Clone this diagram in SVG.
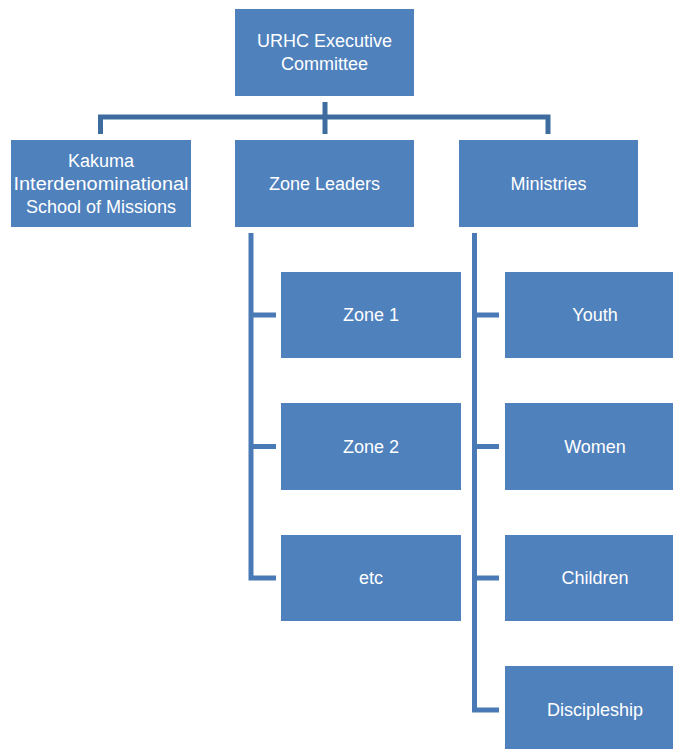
<svg xmlns="http://www.w3.org/2000/svg" width="673" height="749" viewBox="0 0 673 749">
<style>
.box{fill:#4F81BD}
.t{fill:#FFFFFF;font-family:"Liberation Sans",Arial,sans-serif;font-size:18px;text-anchor:middle}
.c1{fill:none;stroke:#3F6C9E;stroke-width:5}
.c2{fill:none;stroke:#4A7AB5;stroke-width:5}
</style>
<rect width="673" height="749" fill="#FFFFFF"/>
<g id="connectors">
<path class="c1" d="M100.5,134 V117 H548 V134"/>
<path class="c1" d="M325,102 V134"/>
<path class="c2" d="M251,233 V578 H276 M251,315 H276 M251,446.5 H276"/>
<path class="c2" d="M474.5,233 V710 H499 M474.5,315 H499 M474.5,446.5 H499 M474.5,578 H499"/>
</g>
<g id="urhc">
<rect class="box" x="235" y="9" width="179" height="87"/>
<text class="t" x="324.5" y="47">URHC Executive</text>
<text class="t" x="324.5" y="70">Committee</text>
</g>
<g id="kakuma">
<rect class="box" x="11" y="140" width="180" height="87"/>
<text class="t" x="101" y="167">Kakuma</text>
<text class="t" x="101" y="190" textLength="175" lengthAdjust="spacingAndGlyphs">Interdenominational</text>
<text class="t" x="101" y="213">School of Missions</text>
</g>
<g id="zone-leaders">
<rect class="box" x="235" y="140" width="179" height="87"/>
<text class="t" x="324.5" y="190">Zone Leaders</text>
</g>
<g id="ministries">
<rect class="box" x="459" y="140" width="179" height="87"/>
<text class="t" x="548.5" y="190">Ministries</text>
</g>
<g id="zone1">
<rect class="box" x="281" y="272" width="180" height="86"/>
<text class="t" x="371" y="321">Zone 1</text>
</g>
<g id="zone2">
<rect class="box" x="281" y="403" width="180" height="87"/>
<text class="t" x="371" y="453">Zone 2</text>
</g>
<g id="etc">
<rect class="box" x="281" y="535" width="180" height="86"/>
<text class="t" x="371" y="584">etc</text>
</g>
<g id="youth">
<rect class="box" x="505" y="272" width="180" height="86"/>
<text class="t" x="595" y="321">Youth</text>
</g>
<g id="women">
<rect class="box" x="505" y="403" width="180" height="87"/>
<text class="t" x="595" y="453">Women</text>
</g>
<g id="children">
<rect class="box" x="505" y="535" width="180" height="86"/>
<text class="t" x="595" y="584">Children</text>
</g>
<g id="discipleship">
<rect class="box" x="505" y="666" width="180" height="87"/>
<text class="t" x="595" y="716">Discipleship</text>
</g>
</svg>
